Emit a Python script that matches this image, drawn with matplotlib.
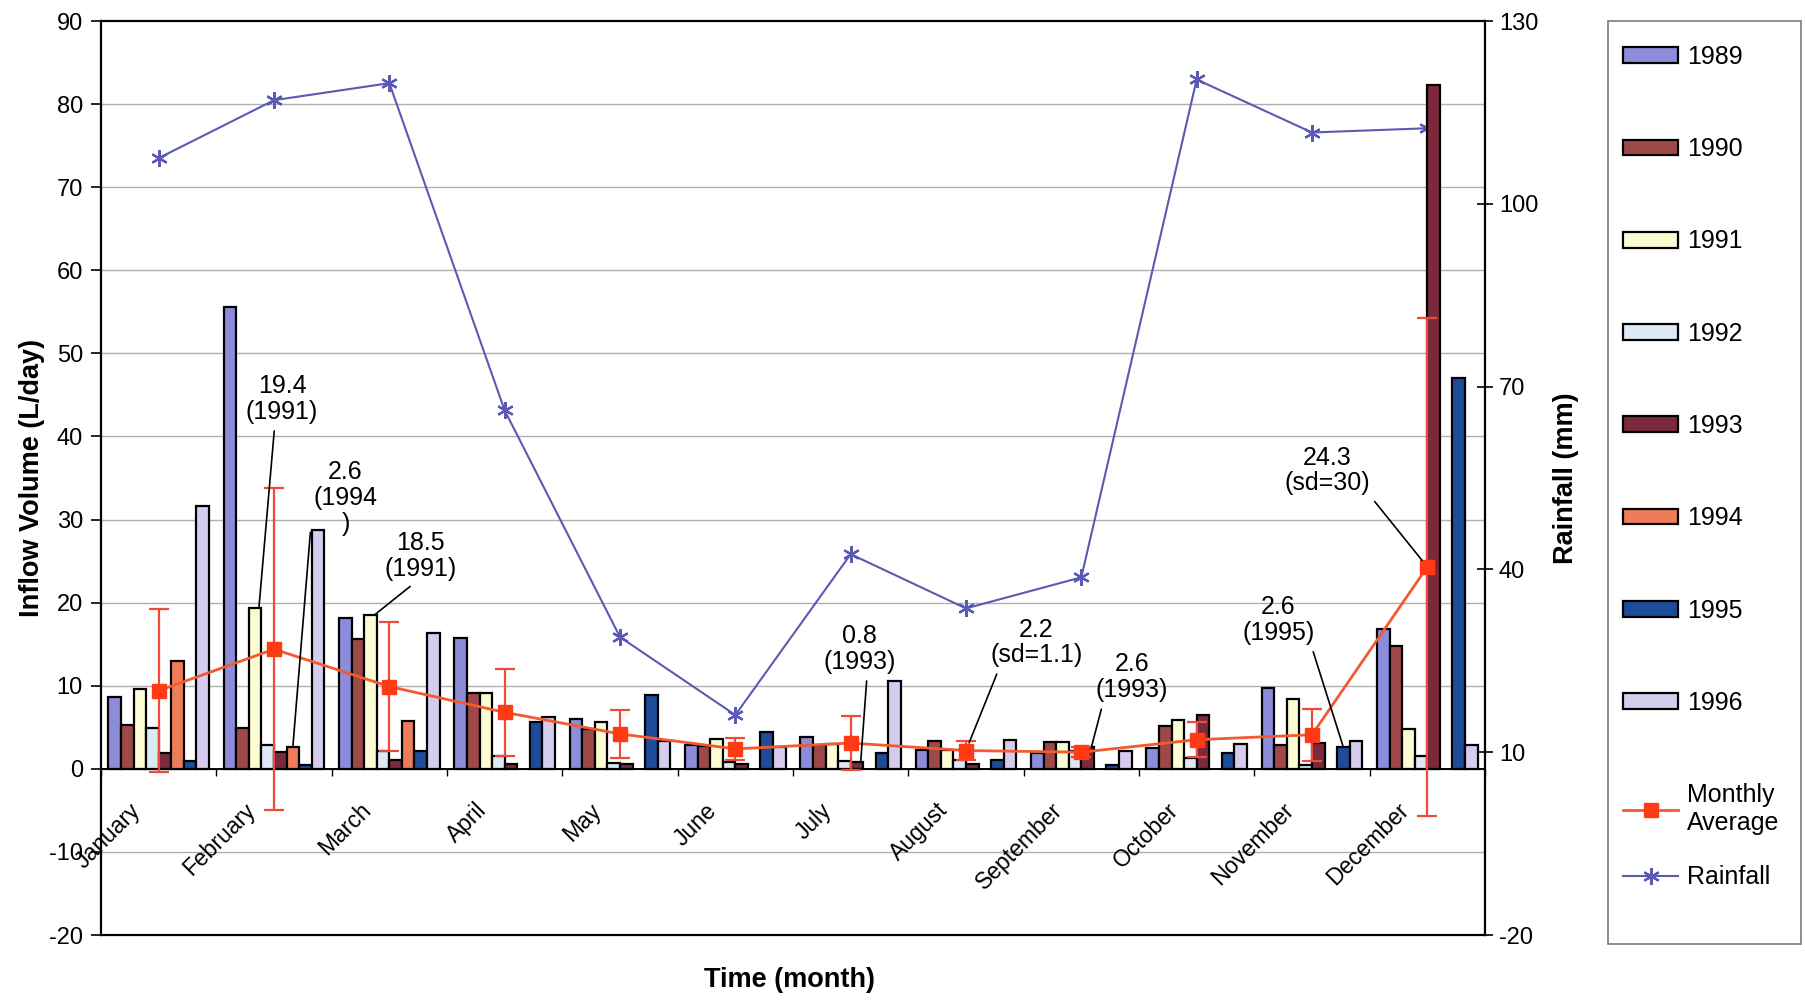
import numpy as np
import matplotlib
matplotlib.use("Agg")
import matplotlib.pyplot as plt
from matplotlib.patches import Patch, Rectangle
from matplotlib.lines import Line2D
from matplotlib.transforms import offset_copy, blended_transform_factory

plt.rcParams['font.family'] = ['Liberation Sans', 'DejaVu Sans']
plt.rcParams['axes.unicode_minus'] = False

months = ["January", "February", "March", "April", "May", "June", "July",
          "August", "September", "October", "November", "December"]
years = ["1989", "1990", "1991", "1992", "1993", "1994", "1995", "1996"]

nan = np.nan
inflow_1989 = [8.7, 55.6, 18.1, 15.8, 6.0, 2.9, 3.8, 2.3, 1.9, 2.5, 9.7, 16.8]
inflow_1990 = [5.3, 4.9, 15.6, 9.1, 4.8, 2.7, 2.9, 3.3, 3.2, 5.1, 2.9, 14.8]
inflow_1991 = [9.6, 19.4, 18.5, 9.1, 5.6, 3.6, 3.0, 2.3, 3.2, 5.9, 8.4, 4.8]
inflow_1992 = [4.9, 2.9, 2.1, 1.5, 0.7, 0.8, 0.9, 1.1, 2.1, 1.3, 0.5, 1.6]
inflow_1993 = [1.9, 2.0, 1.1, 0.6, 0.6, 0.6, 0.8, 0.6, 2.6, 6.5, 3.1, 82.3]
inflow_1994 = [13.0, 2.6, 5.7, nan, nan, nan, nan, nan, nan, nan, nan, nan]
inflow_1995 = [0.9, 0.4, 2.1, 5.6, 8.9, 4.4, 1.9, 1.1, 0.5, 1.9, 2.6, 47.0]
inflow_1996 = [31.6, 28.7, 16.3, 6.2, 3.3, 2.6, 10.6, 3.5, 2.1, 3.0, 3.4, 2.9]

monthly_avg = [9.4, 14.4, 9.9, 6.8, 4.2, 2.4, 3.1, 2.2, 2.0, 3.5, 4.1, 24.3]
monthly_sd = [9.8, 19.4, 7.8, 5.2, 2.9, 1.3, 3.2, 1.1, 0.6, 2.1, 3.1, 30.0]
rainfall = [107.5, 117.0, 119.8, 66.1, 28.9, 16.1, 42.5, 33.6, 38.7, 120.4, 111.7, 112.4]

inflow = [inflow_1989, inflow_1990, inflow_1991, inflow_1992,
          inflow_1993, inflow_1994, inflow_1995, inflow_1996]
year_colors = ["#8C8CDA", "#9E4848", "#FCFCD2", "#DCE8F4",
               "#7A2A3C", "#EE7C58", "#1E4C98", "#D6CCEE"]

# labelled values: (text, month, year index; None = monthly average)
notes = [
    ("19.4\n(1991)", 1, 2),
    ("2.6\n(1994\n)", 1, 5),
    ("18.5\n(1991)", 2, 2),
    ("0.8\n(1993)", 6, 4),
    ("2.2\n(sd=1.1)", 7, None),
    ("2.6\n(1993)", 8, 4),
    ("2.6\n(1995)", 10, 6),
    ("24.3\n(sd=30)", 11, None),
]
note_pos = [(1.07, 44.5), (1.62, 32.6), (2.27, 25.6), (6.08, 14.4),
            (7.61, 15.2), (8.44, 11.0), (9.71, 17.9), (10.13, 35.9)]
note_rel = [(0.4, 0), (0.0, 0.55), (0.45, 0), (0.6, 0),
            (0.1, 0), (0.1, 0), (0.95, 0), (1.0, 0)]

x = np.arange(len(months))
w = 0.87 / len(years)

fig = plt.figure(figsize=(18.05, 10.01), dpi=100)
ax = fig.add_axes([101 / 1805, 66 / 1001, 1384 / 1805, 914 / 1001])
ax2 = ax.twinx()

# rainfall axis sits underneath the bars
ax.yaxis.tick_right()
ax.set_ylim(-20, 130)
ax.set_yticks(np.arange(-20, 131, 30))
ax.tick_params(axis='y', direction='inout', length=12, width=1.2,
               labelsize=17, pad=4)
ax.tick_params(axis='x', bottom=False, labelbottom=False)
for s in ax.spines.values():
    s.set_linewidth(1.6)

ax2.yaxis.tick_left()
ax2.set_ylim(-20, 90)
ax2.set_yticks(np.arange(-20, 91, 10))
ax2.tick_params(axis='y', direction='out', length=7, width=1.2,
                labelsize=17, pad=6)
for side in ("top", "right", "left"):
    ax2.spines[side].set_visible(False)
ax2.spines['bottom'].set_position(('data', 0))
ax2.spines['bottom'].set_linewidth(1.4)
ax2.xaxis.set_visible(True)
ax2.set_xlim(-0.5, len(months) - 0.5)
ax2.set_xticks(np.arange(-0.5, len(months), 1.0))
ax2.tick_params(axis='x', direction='out', length=5, width=1,
                bottom=True, labelbottom=False)

# grid at the inflow ticks, drawn behind the rainfall line
grid_tr = blended_transform_factory(ax.transAxes, ax2.transData)
ax.hlines(np.arange(-10, 90, 10), 0, 1, transform=grid_tr,
          colors="#AFAFAF", lw=1.0, zorder=0)

ax.plot(x, rainfall, color="#5A5AB4", lw=1.5, marker=(6, 2, 0),
        ms=12, mew=1.6, zorder=3)

for j, (vals, col) in enumerate(zip(inflow, year_colors)):
    ax2.bar(x + (j - 3.5) * w, vals, width=w, color=col,
            edgecolor="black", linewidth=1.6, zorder=2)

ax2.errorbar(x, monthly_avg, yerr=monthly_sd, fmt='none', ecolor="#EE4A3C",
             elinewidth=1.6, capsize=7, capthick=1.6, zorder=4)
ax2.plot(x, monthly_avg, color="#F25A30", lw=2.0, marker='s', ms=10,
         mfc="#FF3A14", mec="#FF3A14", zorder=5)

for (txt, m, j), pos, rel in zip(notes, note_pos, note_rel):
    if j is None:
        tip = (x[m], monthly_avg[m])
        shrink_b = 6
    else:
        tip = (x[m] + (j - 3.5) * w + (0.3 * w if j < 5 else 0), inflow[j][m])
        shrink_b = 0
    ax2.annotate(txt, xy=tip, xytext=pos, ha='center', va='center',
                 multialignment='center', fontsize=18, linespacing=1.1,
                 zorder=6,
                 arrowprops=dict(arrowstyle='-', color='black', lw=1.2,
                                 relpos=rel, shrinkA=3, shrinkB=shrink_b))

for i, name in enumerate(months):
    tr = offset_copy(ax2.transData, fig=fig, x=-22, y=-38, units='dots')
    ax2.text(x[i], 0, name, transform=tr, rotation=45, ha='right',
             va='center', rotation_mode='anchor', fontsize=16.5)

fig.text(32 / 1805, 1 - 478 / 1001, "Inflow Volume (L/day)", rotation=90,
         ha='center', va='center', fontsize=19.5, fontweight='bold')
fig.text(1566 / 1805, 1 - 478 / 1001, "Rainfall (mm)", rotation=90,
         ha='center', va='center', fontsize=19.5, fontweight='bold')
fig.text(790 / 1805, 1 - 980 / 1001, "Time (month)",
         ha='center', va='center', fontsize=19.5, fontweight='bold')

handles = [Patch(facecolor=c, edgecolor='black', linewidth=1.6) for c in year_colors]
handles.append(Line2D([], [], color="#F25A30", lw=2.0, marker='s', ms=10,
                      mfc="#FF3A14", mec="#FF3A14"))
labels = years + ["Monthly\nAverage"]
legend_kw = dict(loc='upper left', frameon=False, fontsize=18, borderpad=0,
                 borderaxespad=0, handlelength=2.2, handleheight=0.6,
                 handletextpad=0.35, labelspacing=2.73)
fig.legend(handles, labels, bbox_to_anchor=(1623 / 1805, 1 - 45 / 1001),
           **legend_kw)
rain_handle = Line2D([], [], color="#5A5AB4", lw=1.5, marker=(6, 2, 0),
                     ms=12, mew=1.6)
fig.legend([rain_handle], ["Rainfall"],
           bbox_to_anchor=(1623 / 1805, 1 - 865 / 1001), **legend_kw)
fig.patches.append(Rectangle((1608 / 1805, 57 / 1001), 193 / 1805, 923 / 1001,
                             transform=fig.transFigure, fill=False,
                             edgecolor="#7A7A7A", lw=1.2))

fig.savefig("out.png", dpi=100)
